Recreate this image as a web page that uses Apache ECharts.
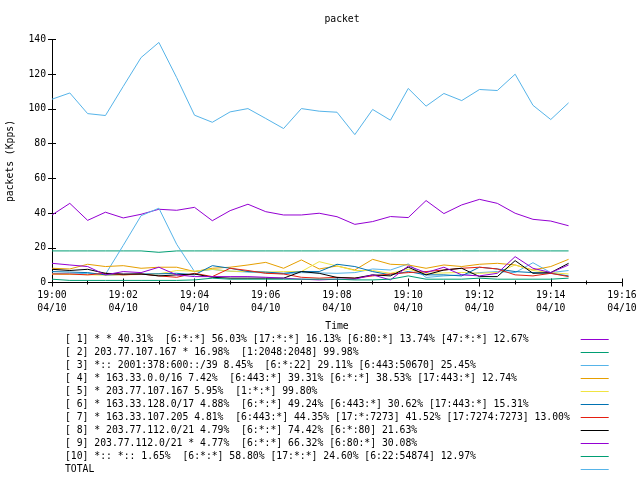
<!DOCTYPE html>
<html><head><meta charset="utf-8">
<script src="https://cdn.jsdelivr.net/npm/echarts@6/dist/echarts.min.js"></script>
<style>html,body{margin:0;padding:0;background:#fff}#c{width:640px;height:480px}</style>
</head><body><div id="c"></div>
<script>
const times = ['19:00:00','19:00:30','19:01:00','19:01:30','19:02:00','19:02:30','19:03:00','19:03:30','19:04:00','19:04:30',
 '19:05:00','19:05:30','19:06:00','19:06:30','19:07:00','19:07:30','19:08:00','19:08:30','19:09:00','19:09:30',
 '19:10:00','19:10:30','19:11:00','19:11:30','19:12:00','19:12:30','19:13:00','19:13:30','19:14:00','19:14:30'];
const xTickLabels = ['19:00','19:02','19:04','19:06','19:08','19:10','19:12','19:14','19:16'];
const xDateLabel = '04/10';
const yTickValues = [0,20,40,60,80,100,120,140];

const seriesNames = [
 '[ 1] * * 40.31%  [6:*:*] 56.03% [17:*:*] 16.13% [6:80:*] 13.74% [47:*:*] 12.67%',
 '[ 2] 203.77.107.167 * 16.98%  [1:2048:2048] 99.98%',
 '[ 3] *:: 2001:378:600::/39 8.45%  [6:*:22] 29.11% [6:443:50670] 25.45%',
 '[ 4] * 163.33.0.0/16 7.42%  [6:443:*] 39.31% [6:*:*] 38.53% [17:443:*] 12.74%',
 '[ 5] * 203.77.107.167 5.95%  [1:*:*] 99.80%',
 '[ 6] * 163.33.128.0/17 4.88%  [6:*:*] 49.24% [6:443:*] 30.62% [17:443:*] 15.31%',
 '[ 7] * 163.33.107.205 4.81%  [6:443:*] 44.35% [17:*:7273] 41.52% [17:7274:7273] 13.00%',
 '[ 8] * 203.77.112.0/21 4.79%  [6:*:*] 74.42% [6:*:80] 21.63%',
 '[ 9] 203.77.112.0/21 * 4.77%  [6:*:*] 66.32% [6:80:*] 30.08%',
 '[10] *:: *:: 1.65%  [6:*:*] 58.80% [17:*:*] 24.60% [6:22:54874] 12.97%',
 'TOTAL'
];
const seriesColors = ['#9400d3','#009e73','#56b4e9','#e69f00','#f0e442','#0072b2','#e51e10','#000000','#9400d3','#009e73','#56b4e9'];

const s1 = [38.9,45.6,35.8,40.5,37.2,39.3,42.2,41.6,43.3,35.6,41.4,45.1,40.8,38.9,38.9,39.9,37.9,33.5,35.1,38.0,37.4,47.2,39.7,44.7,47.9,45.6,39.9,36.4,35.4,32.7];
const s2 = [18.2,18.2,18.2,18.2,18.2,18.2,17.4,18.2,18.2,18.2,18.2,18.2,18.2,18.2,18.2,18.2,18.2,18.2,18.2,18.2,18.2,18.2,18.2,18.2,18.2,18.2,18.2,18.2,18.2,18.2];
const s3 = [5.3,4.9,5.3,4.7,21.4,38.5,42.8,22.0,6.3,7.5,6.5,6.0,5.5,5.0,5.7,5.5,5.3,5.7,7.8,7.2,10.7,2.9,3.8,4.4,5.7,6.3,5.7,11.4,5.7,6.9];
const s4 = [8.2,7.8,10.5,9.2,9.7,8.2,8.8,8.8,6.3,8.2,8.8,10.1,11.6,8.2,13.0,7.8,9.5,7.2,13.35,10.5,10.1,8.2,10.1,9.2,10.5,11.05,10.1,7.2,9.2,13.35];
const s5 = [4.8,4.6,4.5,4.2,4.4,4.6,5.0,6.9,6.5,7.6,6.5,6.3,6.0,6.3,6.3,12.0,9.5,6.9,6.9,5.3,7.6,5.3,5.5,5.8,5.3,5.8,10.1,6.9,5.7,4.9];
const s6 = [6.3,6.0,5.7,4.4,4.6,4.9,5.0,5.3,4.4,9.7,8.2,6.3,6.0,5.3,6.3,6.3,10.5,9.2,6.3,4.4,6.3,4.4,4.4,3.8,8.8,7.8,6.3,5.7,5.3,3.8];
const s7 = [4.9,4.9,4.4,5.3,4.4,4.9,3.8,3.0,5.3,3.4,8.2,6.9,5.3,4.9,3.0,2.5,3.0,2.5,3.8,4.9,5.7,6.3,7.2,8.2,8.8,7.8,4.4,3.8,5.3,3.4];
const s8 = [7.6,6.9,7.6,5.3,4.9,4.9,3.8,4.4,4.9,3.0,2.5,2.5,2.5,2.5,6.3,5.3,2.9,2.5,4.4,3.8,8.8,4.4,7.2,8.2,3.4,3.4,12.6,5.3,5.7,11.05];
const s9 = [11.05,10.1,9.2,4.4,6.3,5.7,8.8,4.4,3.4,3.4,3.4,3.4,3.0,2.5,1.9,1.5,1.9,1.9,4.4,1.5,9.5,5.7,8.8,4.4,3.8,5.3,14.9,8.2,5.7,10.1];
const s10 = [1.9,1.2,1.2,1.2,1.2,1.2,1.2,1.2,1.5,2.5,1.9,1.9,1.9,1.9,1.9,1.9,1.9,1.5,1.5,1.9,3.8,1.9,1.9,1.9,2.5,1.9,1.9,1.9,1.9,2.5];
const total = [105.6,109.2,97.3,96.2,113.0,129.6,138.3,118.0,96.4,92.3,98.3,100.2,94.5,88.7,100.2,98.7,98.1,85.2,99.7,93.5,111.8,101.6,108.9,104.8,111.2,110.6,120.0,102.1,93.9,103.5];
const seriesValues = [s1,s2,s3,s4,s5,s6,s7,s8,s9,s10,total];

// minutes since 19:00
const xMin = times.map(t => { const p = t.split(':').map(Number); return (p[0]*60 + p[1] + p[2]/60) - 19*60; });

const FONT = 'DejaVu Sans Mono';
const FS = 9.75;
const txt = {fontFamily: FONT, fontSize: FS, color: '#000'};

const chart = echarts.init(document.getElementById('c'), null, {renderer: 'canvas'});
const axisLine = {show: true, lineStyle: {color: '#000', width: 1}};
chart.setOption({
  animation: false,
  backgroundColor: '#fff',
  title: {text: 'packet', left: 337, top: 9, textAlign: 'center', textStyle: Object.assign({fontWeight: 'normal'}, txt)},
  grid: {left: 52, right: 18, top: 39.5, bottom: 197.5, containLabel: false, outerBoundsMode: 'none'},
  legend: {
    orient: 'vertical', left: 65, top: 333, align: 'right', itemGap: 0, padding: 0,
    itemWidth: 28, itemHeight: 1, icon: 'rect', selectedMode: false,
    data: seriesNames,
    formatter: n => n.padEnd(87),
    textStyle: Object.assign({lineHeight: 13}, txt)
  },
  xAxis: [
    {type: 'value', position: 'bottom', min: 0, max: 16, interval: 2,
     axisLine, splitLine: {show: false},
     axisTick: {show: true, inside: true, length: 4, lineStyle: {color: '#000'}},
     minorTick: {show: true, splitNumber: 2, length: 2, lineStyle: {color: '#000'}},
     axisLabel: Object.assign({margin: 6.5, lineHeight: 13.3, formatter: v => xTickLabels[Math.round(v/2)] + '\n' + xDateLabel}, txt),
     name: 'Time', nameLocation: 'middle', nameGap: 39, nameTextStyle: txt},
    {type: 'value', position: 'top', min: 0, max: 16, interval: 2,
     axisLine, splitLine: {show: false}, axisLabel: {show: false},
     axisTick: {show: true, inside: true, length: 4, lineStyle: {color: '#000'}},
     minorTick: {show: true, splitNumber: 2, length: 2, lineStyle: {color: '#000'}}}
  ],
  yAxis: [
    {type: 'value', position: 'left', min: yTickValues[0], max: yTickValues[yTickValues.length-1], interval: 20,
     axisLine, splitLine: {show: false},
     axisTick: {show: true, inside: true, length: 4, lineStyle: {color: '#000'}},
     axisLabel: Object.assign({margin: 6}, txt),
     name: 'packets (Kpps)', nameLocation: 'middle', nameGap: 37, nameRotate: 90, nameTextStyle: txt},
    {type: 'value', position: 'right', min: yTickValues[0], max: yTickValues[yTickValues.length-1], interval: 20,
     axisLine, splitLine: {show: false}, axisLabel: {show: false},
     axisTick: {show: true, inside: true, length: 4, lineStyle: {color: '#000'}}}
  ],
  series: seriesValues.map((arr, i) => ({
    name: seriesNames[i], type: 'line', xAxisIndex: 0, yAxisIndex: 0,
    showSymbol: false, symbol: 'none', smooth: false,
    color: seriesColors[i],
    lineStyle: {width: 1, color: seriesColors[i]},
    data: arr.map((v, j) => [xMin[j], v])
  }))
});
</script></body></html>
